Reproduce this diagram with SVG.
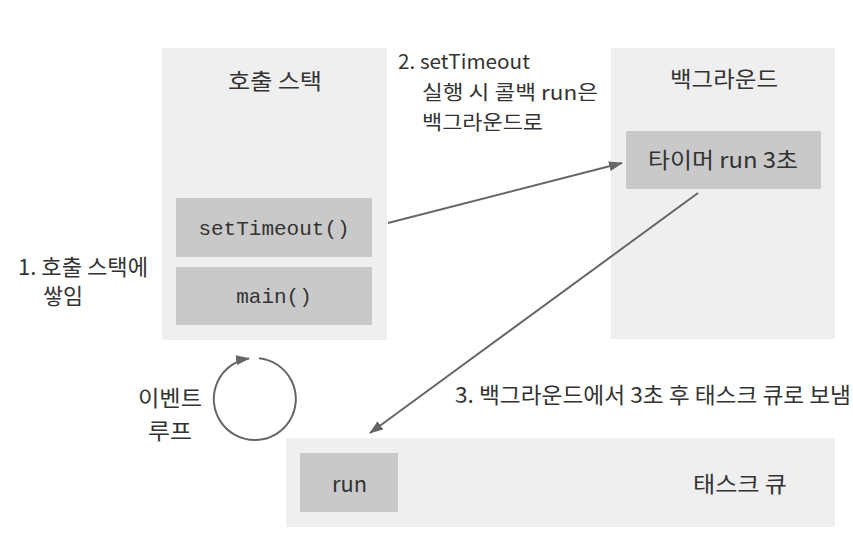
<svg xmlns="http://www.w3.org/2000/svg" width="853" height="545" viewBox="0 0 853 545">
<defs>
<style>
.panel{fill:#efefef}
.item{fill:#c9c9c9}
.t{font-family:"Noto Sans CJK KR","Noto Sans",sans-serif;font-size:22px;fill:#333}
.s{font-size:20px}
.mono{font-family:"Liberation Mono","DejaVu Sans Mono",monospace;font-size:21px;fill:#333}
.conn{stroke:#666;stroke-width:2;fill:none}
</style>
<marker id="ah" viewBox="0 0 14 10" refX="13" refY="5" markerWidth="14" markerHeight="10" markerUnits="userSpaceOnUse" orient="auto">
<path d="M0,0 L14,5 L0,10 z" fill="#666"/>
</marker>
</defs>
<rect width="853" height="545" fill="#fff"/>
<g id="callstack">
<rect class="panel" x="162" y="48" width="225" height="292"/>
<text class="t" x="228" y="89" textLength="94" lengthAdjust="spacingAndGlyphs">호출 스택</text>
</g>
<g id="setTimeout">
<rect class="item" x="176" y="198" width="196" height="59"/>
<text class="mono" x="274" y="235" text-anchor="middle">setTimeout()</text>
</g>
<g id="main">
<rect class="item" x="176" y="267" width="196" height="58"/>
<text class="mono" x="274" y="303" text-anchor="middle">main()</text>
</g>
<g id="background">
<rect class="panel" x="611" y="48" width="224" height="291"/>
<text class="t" x="670" y="87" textLength="108" lengthAdjust="spacingAndGlyphs">백그라운드</text>
</g>
<g id="timer">
<rect class="item" x="626" y="131" width="195" height="58"/>
<text class="t" x="648" y="168" textLength="150" lengthAdjust="spacingAndGlyphs">타이머 run 3초</text>
</g>
<g id="taskqueue">
<rect class="panel" x="286" y="438" width="549" height="89"/>
<text class="t" x="693" y="492" textLength="94" lengthAdjust="spacingAndGlyphs">태스크 큐</text>
</g>
<g id="run">
<rect class="item" x="300" y="453" width="98" height="59"/>
<text class="t" x="332" y="492" textLength="35" lengthAdjust="spacingAndGlyphs">run</text>
</g>
<g id="labels">
<text class="t" x="18" y="275" textLength="130" lengthAdjust="spacingAndGlyphs">1. 호출 스택에</text>
<text class="t" x="43" y="304" textLength="40" lengthAdjust="spacingAndGlyphs">쌓임</text>
<text class="t s" x="398" y="69" textLength="132" lengthAdjust="spacingAndGlyphs">2. setTimeout</text>
<text class="t s" x="422" y="100" textLength="176" lengthAdjust="spacingAndGlyphs">실행 시 콜백 run은</text>
<text class="t s" x="422" y="130" textLength="121" lengthAdjust="spacingAndGlyphs">백그라운드로</text>
<text class="t" x="455" y="403" textLength="396" lengthAdjust="spacingAndGlyphs">3. 백그라운드에서 3초 후 태스크 큐로 보냄</text>
<text class="t" x="138" y="406" textLength="64" lengthAdjust="spacingAndGlyphs">이벤트</text>
<text class="t" x="148" y="439" textLength="44" lengthAdjust="spacingAndGlyphs">루프</text>
</g>
<g id="connectors">
<line class="conn" x1="388" y1="223" x2="622" y2="163" marker-end="url(#ah)"/>
<line class="conn" x1="698" y1="193" x2="370" y2="433" marker-end="url(#ah)"/>
<path class="conn" d="M259,358.2 A41,41 0 1 1 249,358.4" stroke-width="2.5" marker-end="url(#ah)"/>
</g>
</svg>
